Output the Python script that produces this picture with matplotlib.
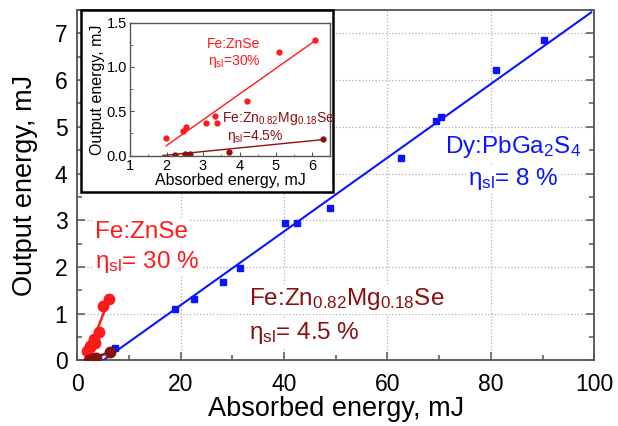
import matplotlib
matplotlib.use('Agg')
import matplotlib.pyplot as plt
from matplotlib.ticker import MultipleLocator
from matplotlib.patches import Rectangle

plt.rcParams['font.family'] = ['Liberation Sans', 'DejaVu Sans']
plt.rcParams['mathtext.fontset'] = 'custom'
plt.rcParams['mathtext.rm'] = 'Liberation Sans'
plt.rcParams['mathtext.it'] = 'Liberation Sans:italic'

# Dy:PbGa2S4
dy_abs = [3.1, 7.3, 18.9, 22.6, 28.2, 31.5, 40.2, 42.5, 48.9, 62.6, 69.4, 70.4, 81.0, 90.3]
dy_out = [0.10, 0.26, 1.11, 1.31, 1.67, 1.98, 2.95, 2.95, 3.26, 4.33, 5.12, 5.20, 6.21, 6.85]
dy_fit_x = [5.0, 99.4]
dy_fit_y = [0.0, 7.45]

# Fe:ZnSe
zn_abs = [1.99, 2.44, 2.53, 3.09, 3.34, 3.37, 4.21, 5.08, 6.08]
zn_out = [0.20, 0.28, 0.32, 0.37, 0.45, 0.37, 0.62, 1.17, 1.31]
zn_fit_x = [1.62, 1.99, 6.05]
zn_fit_y = [0.0, 0.11, 1.29]

# Fe:Zn0.82Mg0.18Se
mg_abs = [2.22, 2.52, 2.65, 3.72, 6.28]
mg_out = [0.01, 0.02, 0.02, 0.045, 0.19]
mg_fit_x = [1.9, 6.28]
mg_fit_y = [0.0, 0.18]

RED = '#ff1a1a'
DRED = '#8b0f0f'
BLUE = '#0a14ff'
GRAY = '#555555'

fig = plt.figure(figsize=(6.18, 4.26), dpi=100)
ax = fig.add_axes([0.1249, 0.1538, 0.8368, 0.8227])

ax.grid(True, which='major', linestyle=':', color='#b0b0b0', linewidth=0.9)
ax.plot(dy_fit_x, dy_fit_y, color=BLUE, lw=1.5, zorder=3)
ax.plot(dy_abs, dy_out, 's', color=BLUE, ms=4.5, zorder=4)
ax.plot(zn_fit_x[::2], zn_fit_y[::2], color=RED, lw=1.8, zorder=3)
ax.plot(zn_abs, zn_out, 'o', color=RED, ms=7.5, zorder=4)
ax.plot(mg_fit_x, mg_fit_y, color=DRED, lw=1.8, zorder=3)
ax.plot(mg_abs, mg_out, 'o', color=DRED, ms=7.5, zorder=4)

ax.set_xlim(0, 100)
ax.set_ylim(0, 7.5)
ax.xaxis.set_major_locator(MultipleLocator(20))
ax.xaxis.set_minor_locator(MultipleLocator(10))
ax.yaxis.set_major_locator(MultipleLocator(1))
ax.yaxis.set_minor_locator(MultipleLocator(0.5))
ax.tick_params(which='both', direction='in', right=True, color=GRAY, labelsize=16.5)
ax.tick_params(which='major', length=6, width=1.1)
ax.tick_params(which='minor', length=3.5, width=1.1)
ax.tick_params(axis='y', pad=7)
ax.tick_params(axis='x', pad=9)
for s in ax.spines.values():
    s.set_color(GRAY)
    s.set_linewidth(1.3)
ax.set_xlabel('Absorbed energy, mJ', fontsize=19.5, labelpad=0)
ax.set_ylabel('Output energy, mJ', fontsize=19.5, labelpad=12)

box = dict(facecolor='white', edgecolor='none', pad=1)
FS = 17.5
ax.text(3.5, 2.63, 'Fe:ZnSe', color=RED, fontsize=FS, bbox=box, zorder=5)
ax.text(3.5, 1.98, r'$\mathregular{\eta_{sl}}$= 30 %', color=RED, fontsize=FS, bbox=box, zorder=5)
ax.text(33.3, 1.18, r'Fe:Zn$\mathregular{_{0.82}}$Mg$\mathregular{_{0.18}}$Se', color=DRED,
        fontsize=FS, bbox=box, zorder=5)
ax.text(33.3, 0.47, r'$\mathregular{\eta_{sl}}$= 4.5 %', color=DRED, fontsize=FS, bbox=box, zorder=5)
ax.text(71.2, 4.43, r'Dy:PbGa$\mathregular{_2}$S$\mathregular{_4}$', color=BLUE, fontsize=FS,
        bbox=box, zorder=5)
ax.text(75.5, 3.75, r'$\mathregular{\eta_{sl}}$= 8 %', color=BLUE, fontsize=FS, bbox=box, zorder=5)

# frame behind the inset
ax.add_patch(Rectangle((81 / 618, 1 - 192 / 426), (333 - 81) / 618, (192 - 10) / 426,
                       transform=fig.transFigure, facecolor='white', edgecolor='black',
                       lw=1.8, clip_on=False, zorder=10))

ins = fig.add_axes([0.2104, 0.6338, 0.3236, 0.3129])
ins.plot(zn_fit_x[1:], zn_fit_y[1:], color=RED, lw=1.0)
ins.plot(zn_abs, zn_out, 'o', color=RED, ms=3.5)
ins.plot(mg_fit_x, mg_fit_y, color=DRED, lw=1.0)
ins.plot(mg_abs, mg_out, 'o', color=DRED, ms=3.5)
ins.set_xlim(1, 6.48)
ins.set_ylim(-0.005, 1.5)
ins.xaxis.set_major_locator(MultipleLocator(1))
ins.xaxis.set_minor_locator(MultipleLocator(0.5))
ins.yaxis.set_major_locator(MultipleLocator(0.5))
ins.yaxis.set_minor_locator(MultipleLocator(0.25))
ins.tick_params(which='both', direction='in', color=GRAY, labelsize=10.5, pad=2)
ins.tick_params(which='major', length=3)
ins.tick_params(which='minor', length=1.8)
for s in ins.spines.values():
    s.set_color(GRAY)
    s.set_linewidth(1.0)
ins.set_xlabel('Absorbed energy, mJ', fontsize=11.5, labelpad=0)
ins.set_ylabel('Output energy, mJ', fontsize=11.5, labelpad=1)
ins.text(3.11, 1.22, 'Fe:ZnSe', color=RED, fontsize=10)
ins.text(3.13, 1.02, r'$\mathregular{\eta_{sl}}$=30%', color=RED, fontsize=10)
ins.text(3.53, 0.38, r'Fe:Zn$\mathregular{_{0.82}}$Mg$\mathregular{_{0.18}}$Se', color=DRED, fontsize=10)
ins.text(3.66, 0.18, r'$\mathregular{\eta_{sl}}$=4.5%', color=DRED, fontsize=10)

fig.savefig('out.png', dpi=100)
